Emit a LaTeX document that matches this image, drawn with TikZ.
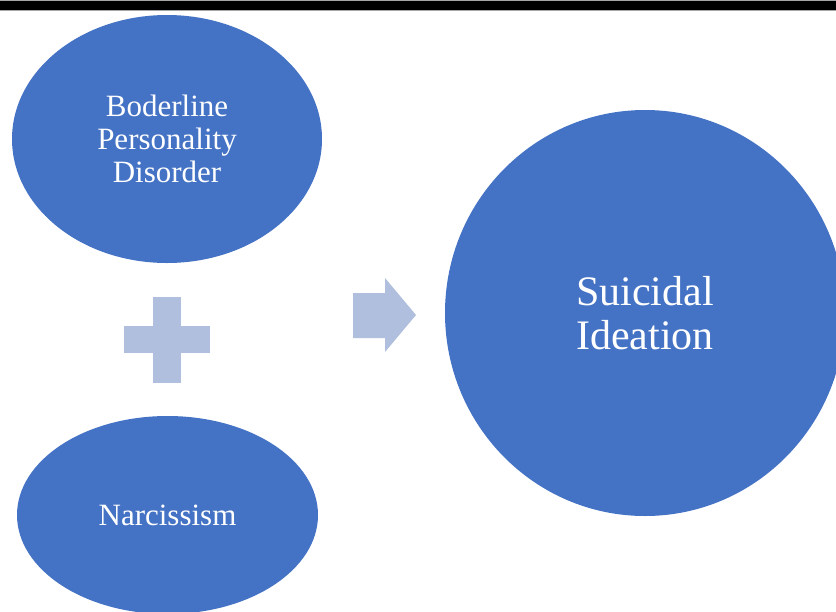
\documentclass[tikz,border=0pt]{standalone}
\usepackage{fontspec}
\setmainfont{Liberation Serif}
\usetikzlibrary{shapes.geometric}
\definecolor{mainblue}{HTML}{4472C4}
\definecolor{lightblue}{HTML}{B1BFDF}
\tikzset{
  blob/.style={ellipse, fill=mainblue, draw=none, inner sep=0pt, text=white, align=center},
  smalltext/.style={font=\fontsize{31}{33}\selectfont},
  bigtext/.style={font=\fontsize{42}{44}\selectfont},
  symb/.style={fill=lightblue, draw=none}
}
\begin{document}
\begin{tikzpicture}[x=1pt,y=-1pt]
\useasboundingbox (0,0) rectangle (836,611);
\clip (0,0) rectangle (836,611);
\fill[white] (0,0) rectangle (836,611);
% top bar
\fill[gray!70] (0,0) rectangle (836,11);
\fill[black] (0,1) rectangle (836,9.5);
% ellipses
\node[blob, smalltext, minimum width=310pt, minimum height=248pt] (bpd) at (167,139) {Boderline\\Personality\\Disorder};
\node[blob, smalltext, minimum width=301pt, minimum height=198pt] (narc) at (167.5,515) {Narcissism};
\node[blob, bigtext, minimum width=400pt, minimum height=406pt] (si) at (645,313) {Suicidal\\Ideation};
% plus sign
\coordinate (plus) at (167,340);
\fill[symb] (124,326) rectangle (210,353);
\fill[symb] (153,297) rectangle (181,383);
% arrow
\coordinate (arr) at (385,315);
\fill[symb] (353,293) -- (385,293) -- (385,278) -- (416,315) -- (385,352) -- (385,338) -- (353,338) -- cycle;
\end{tikzpicture}
\end{document}
